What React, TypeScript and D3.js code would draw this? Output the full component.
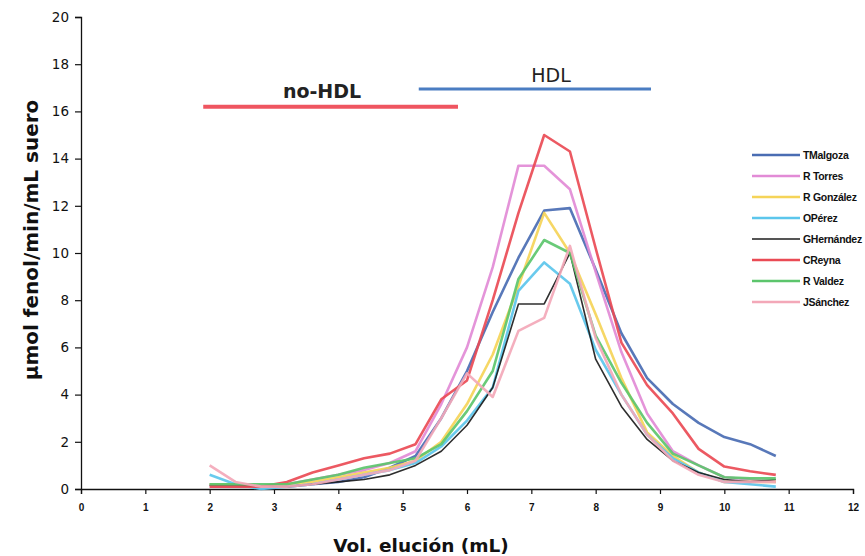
import React, { useEffect, useRef } from "react";
import * as d3 from "d3";

// volumen de elución (mL)
const volumes = [2.0, 2.4, 2.8, 3.2, 3.6, 4.0, 4.4, 4.8, 5.2, 5.6, 6.0, 6.4, 6.8, 7.2, 7.6, 8.0, 8.4, 8.8, 9.2, 9.6, 10.0, 10.4, 10.8];

const tMalgoza = [0.2, 0.1, 0.1, 0.1, 0.2, 0.3, 0.5, 0.9, 1.4, 3.0, 5.0, 7.5, 9.8, 11.8, 11.9, 9.3, 6.6, 4.7, 3.6, 2.8, 2.2, 1.9, 1.4];
const rTorres = [0.1, 0.1, 0.1, 0.2, 0.4, 0.6, 0.8, 1.1, 1.6, 3.6, 6.0, 9.4, 13.7, 13.7, 12.7, 9.2, 5.8, 3.2, 1.6, 1.0, 0.5, 0.4, 0.3];
const rGonzalez = [0.2, 0.2, 0.1, 0.2, 0.3, 0.5, 0.7, 0.9, 1.2, 2.0, 3.6, 5.7, 8.6, 11.7, 10.0, 7.4, 4.7, 2.4, 1.4, 0.7, 0.3, 0.3, 0.3];
const oPerez = [0.6, 0.2, 0.0, 0.1, 0.2, 0.4, 0.6, 0.8, 1.1, 1.8, 2.9, 4.3, 8.4, 9.6, 8.7, 5.9, 4.0, 2.3, 1.3, 0.7, 0.3, 0.2, 0.1];
const gHernandez = [0.15, 0.15, 0.1, 0.1, 0.2, 0.3, 0.4, 0.6, 1.0, 1.6, 2.7, 4.3, 7.84, 7.84, 10.0, 5.5, 3.5, 2.1, 1.2, 0.7, 0.4, 0.3, 0.4];
const cReyna = [0.1, 0.1, 0.1, 0.3, 0.7, 1.0, 1.3, 1.5, 1.9, 3.8, 4.6, 8.0, 11.7, 15.0, 14.3, 10.2, 6.2, 4.4, 3.2, 1.7, 0.95, 0.75, 0.6];
const rValdez = [0.2, 0.2, 0.2, 0.2, 0.4, 0.6, 0.9, 1.1, 1.3, 1.9, 3.3, 5.0, 8.9, 10.55, 10.0, 6.5, 4.5, 2.8, 1.5, 1.0, 0.5, 0.45, 0.45];
const jSanchez = [1.0, 0.3, 0.1, 0.1, 0.2, 0.4, 0.6, 0.8, 1.2, 3.0, 4.9, 3.9, 6.7, 7.25, 10.3, 6.4, 4.0, 2.3, 1.2, 0.6, 0.3, 0.3, 0.3];

const seriesNames = ["TMalgoza", "R Torres", "R González", "OPérez", "GHernández", "CReyna", "R Valdez", "JSánchez"];
const seriesValues = [tMalgoza, rTorres, rGonzalez, oPerez, gHernandez, cReyna, rValdez, jSanchez];
const seriesColors = ["#4a6db3", "#e28bd6", "#f5d458", "#5cc6ec", "#1c1c1c", "#ea4b55", "#5cc56c", "#f3a8b8"];

const xTicks = d3.range(0, 13);
const yTicks = d3.range(0, 21, 2);

// rangos de fracciones (mL) y altura de las barras
const fractionLabels = ["no-HDL", "HDL"];
const fractionStart = [1.9, 5.25];
const fractionEnd = [5.86, 8.86];
const fractionLevel = [16.2, 16.95];

const App = () => {
  const ref = useRef<SVGSVGElement>(null);

  useEffect(() => {
    const width = 865;
    const height = 556;
    const margin = { top: 17, right: 12, bottom: 67, left: 81 };

    const svg = d3.select(ref.current);
    svg.selectAll("*").remove();
    svg.attr("width", width).attr("height", height);

    const x = d3.scaleLinear().domain([0, 12]).range([margin.left, width - margin.right]);
    const y = d3.scaleLinear().domain([0, 20]).range([height - margin.bottom, margin.top]);

    svg.append("rect").attr("width", width).attr("height", height).attr("fill", "#fff");

    // eje y
    const yAxis = svg.append("g")
      .attr("transform", `translate(${margin.left},0)`)
      .call(d3.axisLeft(y).tickValues(yTicks).tickSize(6).tickPadding(6));
    yAxis.select(".domain").attr("stroke", "#111").attr("stroke-width", 1.3);
    yAxis.selectAll(".tick line").attr("stroke", "#111").attr("stroke-width", 1.2);
    yAxis.selectAll(".tick text")
      .attr("font-family", "'DejaVu Sans', Verdana, sans-serif")
      .attr("font-size", 13.5)
      .attr("fill", "#111");

    // eje x
    const xAxis = svg.append("g")
      .attr("transform", `translate(0,${height - margin.bottom})`)
      .call(d3.axisBottom(x).tickValues(xTicks).tickSize(5).tickPadding(10));
    xAxis.select(".domain").attr("stroke", "#111").attr("stroke-width", 1.3);
    xAxis.selectAll(".tick line").attr("stroke", "#111").attr("stroke-width", 1.2);
    xAxis.selectAll(".tick text")
      .attr("font-family", "'Liberation Sans', Arial, sans-serif")
      .attr("font-weight", "bold")
      .attr("font-size", 10)
      .attr("fill", "#111");

    // títulos de ejes
    svg.append("text")
      .attr("transform", `translate(38,240) rotate(-90)`)
      .attr("text-anchor", "middle")
      .attr("font-family", "'DejaVu Sans', Verdana, sans-serif")
      .attr("font-weight", "bold")
      .attr("font-size", 20)
      .attr("fill", "#111")
      .text("µmol fenol/min/mL suero");

    svg.append("text")
      .attr("x", 421)
      .attr("y", 552)
      .attr("text-anchor", "middle")
      .attr("font-family", "'DejaVu Sans', Verdana, sans-serif")
      .attr("font-weight", "bold")
      .attr("font-size", 18.5)
      .attr("fill", "#111")
      .text("Vol. elución (mL)");

    // barras de fracciones
    const fracColors = ["#ef5560", "#4a7dc2"];
    const fracWidths = [4, 3];
    fractionLabels.forEach((label, i) => {
      svg.append("line")
        .attr("x1", x(fractionStart[i]))
        .attr("x2", x(fractionEnd[i]))
        .attr("y1", y(fractionLevel[i]))
        .attr("y2", y(fractionLevel[i]))
        .attr("stroke", fracColors[i])
        .attr("stroke-width", fracWidths[i]);
    });
    svg.append("text")
      .attr("x", 322)
      .attr("y", 98)
      .attr("text-anchor", "middle")
      .attr("font-family", "'DejaVu Sans', Verdana, sans-serif")
      .attr("font-weight", "bold")
      .attr("font-size", 19)
      .attr("fill", "#222")
      .text(fractionLabels[0]);
    svg.append("text")
      .attr("x", 551)
      .attr("y", 82)
      .attr("text-anchor", "middle")
      .attr("font-family", "'DejaVu Sans', Verdana, sans-serif")
      .attr("font-size", 19)
      .attr("fill", "#222")
      .text(fractionLabels[1]);

    // curvas
    const line = d3.line<number>()
      .x((_, i) => x(volumes[i]))
      .y(d => y(d));

    seriesValues.forEach((vals, i) => {
      svg.append("path")
        .datum(vals)
        .attr("d", line)
        .attr("fill", "none")
        .attr("stroke", seriesColors[i])
        .attr("stroke-width", i === 4 ? 1.6 : 2.6)
        .attr("stroke-linejoin", "round")
        .attr("opacity", 0.92);
    });

    // leyenda
    const legend = svg.append("g").attr("transform", "translate(752,155)");
    seriesNames.forEach((name, i) => {
      const row = legend.append("g").attr("transform", `translate(0,${i * 21})`);
      row.append("line")
        .attr("x1", 0)
        .attr("x2", 48)
        .attr("stroke", seriesColors[i])
        .attr("stroke-width", i === 4 ? 1.6 : 2.6);
      row.append("text")
        .attr("x", 51)
        .attr("y", 4)
        .attr("font-family", "'Liberation Sans', Arial, sans-serif")
        .attr("font-weight", "bold")
        .attr("font-size", 10.5)
        .attr("letter-spacing", -0.3)
        .attr("fill", "#111")
        .text(name);
    });
  }, []);

  return <svg ref={ref} style={{ position: "absolute", left: 0, top: 0 }}></svg>;
};

export default App;
